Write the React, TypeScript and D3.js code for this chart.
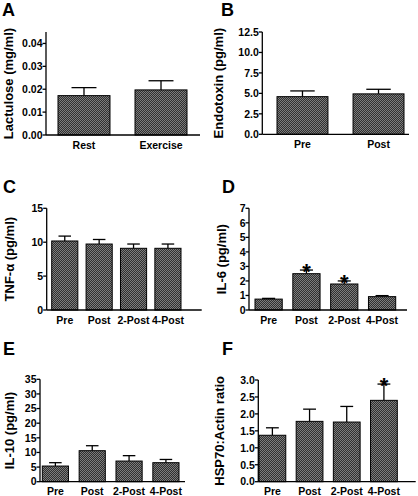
import React from "react";
import * as d3 from "d3";

// ---- data ----
const catsA = ["Rest", "Exercise"];
const meanA = [0.0172, 0.0197];
const errA = [0.0207, 0.0237];
const ticksA = [0, 0.01, 0.02, 0.03, 0.04];

const catsB = ["Pre", "Post"];
const meanB = [4.6, 4.94];
const errB = [5.3, 5.5];
const ticksB = [0, 2.5, 5, 7.5, 10, 12.5];

const catsTime = ["Pre", "Post", "2-Post", "4-Post"];

const meanC = [10.18, 9.73, 9.1, 9.1];
const errC = [10.9, 10.4, 9.73, 9.73];
const ticksC = [0, 5, 10, 15];

const meanD = [0.75, 2.5, 1.79, 0.92];
const errD = [0.8, 2.75, 2.0, 0.99];
const starD = [false, true, true, false];
const ticksD = [0, 1, 2, 3, 4, 5, 6, 7];

const meanE = [5.35, 10.6, 7.06, 6.5];
const errE = [6.5, 12.3, 8.9, 7.6];
const ticksE = [0, 5, 10, 15, 20, 25, 30, 35];

const meanF = [1.37, 1.78, 1.76, 2.4];
const errF = [1.59, 2.14, 2.22, 2.88];
const starF = [false, false, false, true];
const ticksF = [0, 0.5, 1, 1.5, 2, 2.5, 3];

const FONT = "'Liberation Sans', Arial, sans-serif";

type PanelProps = {
  letter: string;
  letterX: number;
  letterY: number;
  title: string;
  titleX: number;
  cats: string[];
  means: number[];
  errs: number[];
  stars?: boolean[];
  ticks: number[];
  fmt: string;
  ymax: number;
  axisX: number;
  yTop: number;
  yBot: number;
  xEnd: number;
  barStart: number;
  barEnd: number;
  pad: number;
};

function Panel(p: PanelProps) {
  const y = d3.scaleLinear().domain([0, p.ymax]).range([p.yBot, p.yTop]);
  const x = d3
    .scaleBand<string>()
    .domain(p.cats)
    .range([p.barStart, p.barEnd])
    .paddingInner(p.pad)
    .paddingOuter(0);
  const f = d3.format(p.fmt);
  const bw = x.bandwidth();
  const capW = bw * 0.48;
  const midY = (p.yTop + p.yBot) / 2;
  return (
    <g fontFamily={FONT} fontWeight="bold">
      <text x={p.letterX} y={p.letterY} fontSize={18}>
        {p.letter}
      </text>
      <text
        transform={`translate(${p.titleX},${midY}) rotate(-90)`}
        textAnchor="middle"
        fontSize={13}
      >
        {p.title}
      </text>
      {p.cats.map((c, i) => {
        const x0 = x(c)!;
        const cx = x0 + bw / 2;
        const yt = y(p.means[i]);
        const ye = y(p.errs[i]);
        return (
          <g key={c}>
            <line x1={cx} x2={cx} y1={yt} y2={ye} stroke="#000" strokeWidth={1.3} />
            <line
              x1={cx - capW / 2}
              x2={cx + capW / 2}
              y1={ye}
              y2={ye}
              stroke="#000"
              strokeWidth={1.3}
            />
            <rect
              x={x0}
              y={yt}
              width={bw}
              height={p.yBot - yt}
              fill="url(#hatch)"
              stroke="#000"
              strokeWidth={1}
            />
            {p.stars && p.stars[i] ? (
              <text x={cx} y={ye - 7 + 0.72 * 22} textAnchor="middle" fontSize={22}>
                *
              </text>
            ) : null}
            <text x={cx} y={p.yBot + 13.5} textAnchor="middle" fontSize={10.5}>
              {c}
            </text>
          </g>
        );
      })}
      {p.ticks.map((t) => (
        <g key={t}>
          <line
            x1={p.axisX - 3.5}
            x2={p.axisX}
            y1={y(t)}
            y2={y(t)}
            stroke="#000"
            strokeWidth={1.3}
          />
          <text
            x={p.axisX - 3.5}
            y={y(t)}
            dy="0.36em"
            textAnchor="end"
            fontSize={10.5}
          >
            {f(t)}
          </text>
        </g>
      ))}
      <line x1={p.axisX} x2={p.axisX} y1={p.yTop} y2={p.yBot} stroke="#000" strokeWidth={1.3} />
      <line x1={p.axisX} x2={p.xEnd} y1={p.yBot} y2={p.yBot} stroke="#000" strokeWidth={1.3} />
    </g>
  );
}

export default function App() {
  return (
    <svg
      width={418}
      height={496}
      style={{ position: "absolute", left: 0, top: 0, background: "#fff" }}
    >
      <defs>
        <pattern id="hatch" width={2} height={2} patternUnits="userSpaceOnUse">
          <rect width={2} height={2} fill="#303030" />
          <rect width={1} height={1} fill="#7c7c7c" />
          <rect x={1} y={1} width={1} height={1} fill="#7c7c7c" />
        </pattern>
      </defs>
      <Panel
        letter="A" letterX={2} letterY={16} title="Lactulose (mg/ml)" titleX={13}
        cats={catsA} means={meanA} errs={errA} ticks={ticksA} fmt=".2f" ymax={0.045}
        axisX={46} yTop={32} yBot={135} xEnd={200} barStart={58} barEnd={187} pad={0.325}
      />
      <Panel
        letter="B" letterX={221} letterY={16} title="Endotoxin (pg/ml)" titleX={223}
        cats={catsB} means={meanB} errs={errB} ticks={ticksB} fmt=".1f" ymax={12.5}
        axisX={262.3} yTop={32} yBot={134.3} xEnd={409} barStart={277} barEnd={404} pad={0.33}
      />
      <Panel
        letter="C" letterX={3} letterY={193} title="TNF-α (pg/ml)" titleX={14}
        cats={catsTime} means={meanC} errs={errC} ticks={ticksC} fmt="d" ymax={15}
        axisX={46.7} yTop={208.3} yBot={310} xEnd={201.7} barStart={51.7} barEnd={181} pad={0.24}
      />
      <Panel
        letter="D" letterX={222} letterY={193} title="IL-6 (pg/ml)" titleX={226}
        cats={catsTime} means={meanD} errs={errD} stars={starD} ticks={ticksD} fmt="d" ymax={7}
        axisX={249} yTop={208.3} yBot={310} xEnd={407} barStart={255} barEnd={395.7} pad={0.28}
      />
      <Panel
        letter="E" letterX={3} letterY={355} title="IL-10 (pg/ml)" titleX={14}
        cats={catsTime} means={meanE} errs={errE} ticks={ticksE} fmt="d" ymax={35}
        axisX={40} yTop={379.3} yBot={481.7} xEnd={185} barStart={42.3} barEnd={179} pad={0.29}
      />
      <Panel
        letter="F" letterX={222} letterY={355} title="HSP70:Actin ratio" titleX={224}
        cats={catsTime} means={meanF} errs={errF} stars={starF} ticks={ticksF} fmt=".1f" ymax={3}
        axisX={258.3} yTop={380} yBot={481.7} xEnd={415.7} barStart={259} barEnd={397.3} pad={0.28}
      />
    </svg>
  );
}
